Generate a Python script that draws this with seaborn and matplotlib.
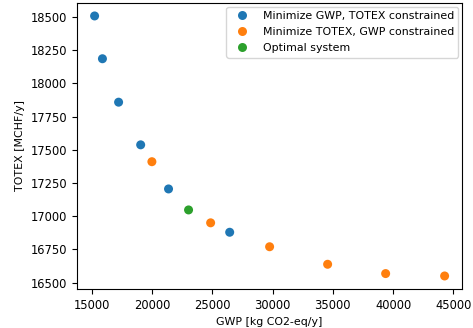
import matplotlib
matplotlib.use("Agg")
import matplotlib.pyplot as plt
import pandas as pd
import seaborn as sns

# values
gwp_min_gwp = [15250, 15900, 17240, 19070, 21380, 26450]
totex_min_gwp = [18507, 18185, 17858, 17537, 17205, 16879]

gwp_min_totex = [20000, 24870, 29760, 34570, 39380, 44270]
totex_min_totex = [17410, 16950, 16770, 16638, 16568, 16550]

gwp_opt = [23040]
totex_opt = [17047]

labels = ["Minimize GWP, TOTEX constrained",
          "Minimize TOTEX, GWP constrained",
          "Optimal system"]

df = pd.DataFrame({
    "gwp": gwp_min_gwp + gwp_min_totex + gwp_opt,
    "totex": totex_min_gwp + totex_min_totex + totex_opt,
    "case": [labels[0]] * len(gwp_min_gwp)
            + [labels[1]] * len(gwp_min_totex)
            + [labels[2]] * len(gwp_opt),
})

fig = plt.figure(figsize=(4.73, 3.28), dpi=100, facecolor="white")
ax = fig.add_axes([0.163, 0.119, 0.814, 0.872])
sns.scatterplot(data=df, x="gwp", y="totex", hue="case", hue_order=labels,
                palette=["#1f77b4", "#ff7f0e", "#2ca02c"], s=42,
                edgecolor="none", ax=ax)

ax.set_xticks([15000, 20000, 25000, 30000, 35000, 40000, 45000])
ax.set_yticks([16500, 16750, 17000, 17250, 17500, 17750, 18000, 18250, 18500])
ax.tick_params(labelsize=8.3)
ax.set_xlabel("GWP [kg CO2-eq/y]", fontsize=7.9)
ax.set_ylabel("TOTEX [MCHF/y]", fontsize=7.9)
ax.legend(loc="upper right", fontsize=7.9, borderaxespad=0.35,
          handletextpad=0.9, labelspacing=0.55)

plt.savefig("out.png", dpi=100, facecolor="white")
